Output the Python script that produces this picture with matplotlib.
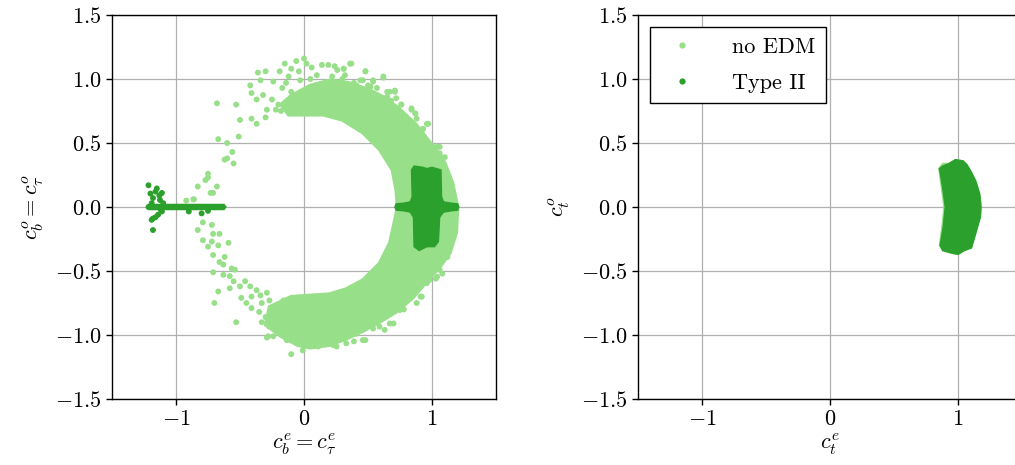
import matplotlib
matplotlib.use("Agg")
import matplotlib.pyplot as plt
from matplotlib.lines import Line2D

plt.rcParams.update({
    "font.family": "serif",
    "font.serif": ["cmr10"],
    "mathtext.fontset": "cm",
    "axes.formatter.use_mathtext": True,
    "font.size": 16,
})

LIGHT = "#98df8a"
DARK = "#2ca02c"

# ---------------- left panel: no EDM dense ring (outer then inner boundary)
ring_outer_x = [-0.18, -0.10, 0.05, 0.20, 0.35, 0.50, 0.62, 0.73, 0.88, 0.98, 1.09, 1.16, 1.20,
                1.19, 1.14, 1.06, 0.96, 0.85, 0.72, 0.59, 0.46, 0.33, 0.20, 0.05, -0.05, -0.18, -0.30]
ring_outer_y = [0.80, 0.87, 0.95, 0.99, 0.97, 0.92, 0.86, 0.78, 0.64, 0.51, 0.37, 0.19, 0.00,
                -0.20, -0.36, -0.47, -0.58, -0.71, -0.82, -0.90, -0.97, -1.03, -1.08, -1.10, -1.08, -1.01, -0.92]
ring_inner_x = [-0.27, -0.10, 0.05, 0.20, 0.33, 0.46, 0.59, 0.67, 0.71, 0.73,
                0.72, 0.69, 0.59, 0.46, 0.30, 0.15, 0.00, -0.12]
ring_inner_y = [-0.78, -0.70, -0.69, -0.68, -0.64, -0.57, -0.44, -0.28, -0.10, 0.00,
                0.13, 0.29, 0.45, 0.58, 0.68, 0.72, 0.72, 0.72]

# no EDM scattered points
noedm_x = [-0.68, -0.53, -0.67, -0.51, -0.60, -0.56, -0.62, -0.55, -0.75, -0.77, -0.68, -0.83, -0.73,
           -0.92, -0.86, -0.60, -0.75, -0.71, -0.865,
           -0.36, -0.30, -0.34, -0.42, -0.41, -0.32, -0.37, -0.29, -0.25, -0.19, -0.15, -0.10, -0.06,
           0.00, 0.02, -0.04, -0.03, 0.05, 0.14, 0.19, 0.26, 0.31, 0.36, 0.48, 0.62, 0.54, 0.44, 0.39,
           0.57, 0.71, 0.76, 0.84, 0.87, 0.97, 0.93, 1.01, 1.06, -0.24, -0.17, -0.14, -0.37, -0.41, -0.50,
           0.10, 0.22, 0.30, 0.12, 0.25, 0.40, 0.50, 0.65, 0.68, -0.10, -0.20, -0.30, 0.06, -0.12,
           0.24, 0.31, 0.37, 0.32, 0.48, 0.62, 0.54, 0.46, 0.41, 0.52, 0.67, 0.71, 0.76, 0.84, 0.87,
           0.88, 0.96, 0.93, 0.98, 1.04, 1.06, 1.10, 0.26, 0.36, 0.44, 0.57, 0.65, 0.72,
           -0.15, -0.08, -0.22, -0.05, 0.08, -0.18,
           -0.79, -0.72, -0.83, -0.71, -0.66, -0.79, -0.72, -0.75, -0.67, -0.59, -0.71, -0.62, -0.66,
           -0.63, -0.565, -0.54, -0.71, -0.63, -0.58, -0.55, -0.46, -0.50, -0.58, -0.42, -0.67, -0.37,
           -0.49, -0.41, -0.34, -0.29, -0.70, -0.45, -0.41, -0.33, -0.27, -0.53, -0.33, -0.27, -0.21,
           -0.28, -0.24, -0.135, -0.10, -0.24, -0.19, -0.16, -0.01, -0.29, -0.35, -0.30,
           1.00, 1.115, 1.04, 0.97, 0.96, 0.91, 0.83, 0.75, 0.67, 0.59, 0.54, 0.46, 0.41, 0.33, 0.255,
           1.06, 0.48, 0.63, 0.70, 0.92, 0.98, 1.03, 1.12, 0.84, 0.39, 0.23, 0.11, 0.78, 0.88, 1.08]
noedm_y = [0.81, 0.80, 0.53, 0.55, 0.50, 0.43, 0.37, 0.34, 0.26, 0.21, 0.16, 0.16, 0.11,
           0.05, 0.06, 0.38, 0.23, 0.11, 0.06,
           1.05, 1.06, 0.99, 0.95, 0.89, 0.875, 0.84, 0.76, 0.84, 1.06, 1.12, 1.08, 1.14,
           1.16, 1.12, 1.06, 0.99, 1.00, 1.11, 1.11, 1.07, 1.08, 1.12, 1.06, 1.01, 0.99, 0.99, 0.97,
           0.93, 0.91, 0.80, 0.76, 0.73, 0.65, 0.61, 0.47, 0.47, 0.98, 0.93, 0.97, 0.65, 0.69, 0.68,
           1.03, 1.02, 1.00, 0.95, 0.94, 0.92, 0.95, 0.90, 0.83, 0.90, 0.80, 0.70, 1.09, 1.02,
           1.10, 1.08, 1.12, 1.03, 1.06, 1.02, 0.98, 0.99, 0.95, 0.94, 0.90, 0.90, 0.80, 0.77, 0.73,
           0.69, 0.65, 0.61, 0.48, 0.47, 0.42, 0.39, 0.97, 0.91, 0.89, 0.85, 0.86, 0.85,
           0.78, 0.80, 0.76, 0.76, 0.74, 0.75,
           -0.12, -0.14, -0.18, -0.21, -0.21, -0.26, -0.27, -0.31, -0.30, -0.28, -0.375, -0.39, -0.43,
           -0.45, -0.48, -0.49, -0.51, -0.53, -0.54, -0.58, -0.58, -0.62, -0.635, -0.62, -0.66, -0.65,
           -0.71, -0.70, -0.69, -0.67, -0.75, -0.75, -0.79, -0.75, -0.73, -0.90, -0.90, -0.935, -0.88,
           -1.01, -1.01, -1.04, -1.15, -0.83, -0.805, -0.73, -1.12, -1.02, -0.82, -0.86,
           -0.41, -0.39, -0.545, -0.557, -0.595, -0.70, -0.70, -0.805, -0.91, -0.935, -0.95, -1.04, -0.99,
           -1.065, -1.09, -0.49, -1.04, -0.96, -0.91, -0.70, -0.57, -0.56, -0.39, -0.67, -1.05, -1.08, -1.09,
           -0.80, -0.75, -0.52]

# Type II, left panel: dense block with horizontal bar near (1, 0)
t2_block_x = [0.71, 0.72, 0.78, 0.83, 0.845, 0.84, 0.86, 0.93, 0.96, 1.00, 1.07, 1.075, 1.09, 1.15,
              1.20, 1.21, 1.20, 1.15, 1.09, 1.06, 1.05, 1.02, 0.96, 0.90, 0.86, 0.855, 0.83, 0.78, 0.72]
t2_block_y = [0.00, 0.025, 0.03, 0.04, 0.08, 0.29, 0.32, 0.31, 0.30, 0.31, 0.29, 0.08, 0.04, 0.03,
              0.025, 0.00, -0.025, -0.03, -0.04, -0.08, -0.27, -0.31, -0.31, -0.34, -0.31, -0.08, -0.04,
              -0.03, -0.025]
# Type II, left panel: bar near (-0.9, 0)
t2_bar_x = [-1.215, -0.625, -0.610, -0.625, -1.215]
t2_bar_y = [0.02, 0.02, 0.00, -0.02, -0.02]
# Type II scattered points near (-1.2, 0)
t2_x = [-1.215, -1.15, -1.11, -1.20, -1.18, -1.19, -1.125, -1.10, -1.11, -1.14, -1.18, -1.19, -1.18,
        -0.90, -0.80, -1.16, -1.13, -1.07, -1.12, -1.16, -1.215, -0.75]
t2_y = [0.17, 0.145, 0.11, 0.105, 0.07, 0.03, 0.055, 0.03, -0.035, -0.06, -0.09, -0.10, -0.18,
        -0.035, -0.05, 0.12, 0.09, 0.00, -0.02, -0.08, 0.00, -0.03]

# ---------------- right panel: c_t (crescent)
ct_noedm_x = [0.850, 0.870, 0.890, 0.875, 0.855, 0.880, 0.950, 1.000, 1.050, 1.105, 1.140, 1.172,
              1.180, 1.170, 1.140, 1.100, 1.070, 1.040, 0.980, 0.930, 0.880]
ct_noedm_y = [0.30, 0.15, 0.00, -0.15, -0.30, -0.34, -0.36, -0.37, -0.34, -0.32, -0.20, -0.08,
              0.00, 0.10, 0.20, 0.28, 0.33, 0.36, 0.37, 0.34, 0.34]
ct_t2_x = [0.855, 0.880, 0.900, 0.885, 0.860, 0.880, 0.950, 1.000, 1.050, 1.105, 1.140, 1.175,
           1.180, 1.170, 1.140, 1.100, 1.070, 1.040, 0.980, 0.930, 0.880]
ct_t2_y = [0.30, 0.15, 0.00, -0.15, -0.30, -0.34, -0.36, -0.37, -0.34, -0.32, -0.20, -0.08,
           0.00, 0.10, 0.20, 0.28, 0.33, 0.36, 0.37, 0.34, 0.32]

xticks = [-1, 0, 1]
yticks = [-1.5, -1.0, -0.5, 0.0, 0.5, 1.0, 1.5]
ytick_labels = ["$-1.5$", "$-1.0$", "$-0.5$", "$0.0$", "$0.5$", "$1.0$", "$1.5$"]
xtick_labels = ["$-1$", "$0$", "$1$"]

fig = plt.figure(figsize=(10.15, 4.65), dpi=100)
W, H = 1015.0, 465.0
axL = fig.add_axes([112 / W, (H - 399) / H, 384 / W, 384 / H])
axR = fig.add_axes([638 / W, (H - 399) / H, 384 / W, 384 / H])

for ax in (axL, axR):
    ax.set_xlim(-1.5, 1.5)
    ax.set_ylim(-1.5, 1.5)
    ax.set_axisbelow(True)
    ax.grid(True, color="#b0b0b0", linewidth=0.9)
    ax.set_xticks(xticks)
    ax.set_xticklabels(xtick_labels)
    ax.set_yticks(yticks)
    ax.set_yticklabels(ytick_labels)
    ax.tick_params(labelsize=16, length=4, width=1)
    for s in ax.spines.values():
        s.set_linewidth(1.0)

# left panel
axL.fill(ring_outer_x + ring_inner_x, ring_outer_y + ring_inner_y, color=LIGHT, lw=2.5,
         ec=LIGHT, zorder=2)
axL.scatter(noedm_x, noedm_y, s=18, color=LIGHT, edgecolors="none", zorder=2)
axL.fill(t2_block_x, t2_block_y, color=DARK, lw=1.0, ec=DARK, zorder=3)
axL.fill(t2_bar_x, t2_bar_y, color=DARK, lw=1.0, ec=DARK, zorder=3)
axL.scatter(t2_x, t2_y, s=18, color=DARK, edgecolors="none", zorder=3)
axL.set_xlabel(r"$c_b^e = c_\tau^e$", fontsize=16, labelpad=2)
axL.set_ylabel(r"$c_b^o = c_\tau^o$", fontsize=16, labelpad=6)

# right panel
axR.fill(ct_noedm_x, ct_noedm_y, color=LIGHT, lw=1.0, ec=LIGHT, zorder=2)
axR.fill(ct_t2_x, ct_t2_y, color=DARK, lw=1.0, ec=DARK, zorder=3)
axR.set_xlabel(r"$c_t^e$", fontsize=16, labelpad=2)
axR.set_ylabel(r"$c_t^o$", fontsize=16, labelpad=6)

handles = [Line2D([], [], ls="none", marker="o", ms=4.5, mec="none", color=LIGHT),
           Line2D([], [], ls="none", marker="o", ms=4.5, mec="none", color=DARK)]
leg = axR.legend(handles, ["no EDM", "Type II"], loc="upper left", fontsize=16,
                 fancybox=False, framealpha=1, edgecolor="black", numpoints=1,
                 borderaxespad=0.55, handletextpad=1.25, labelspacing=0.75, borderpad=0.45)
leg.get_frame().set_linewidth(1.0)

fig.savefig("out.png", dpi=100)
